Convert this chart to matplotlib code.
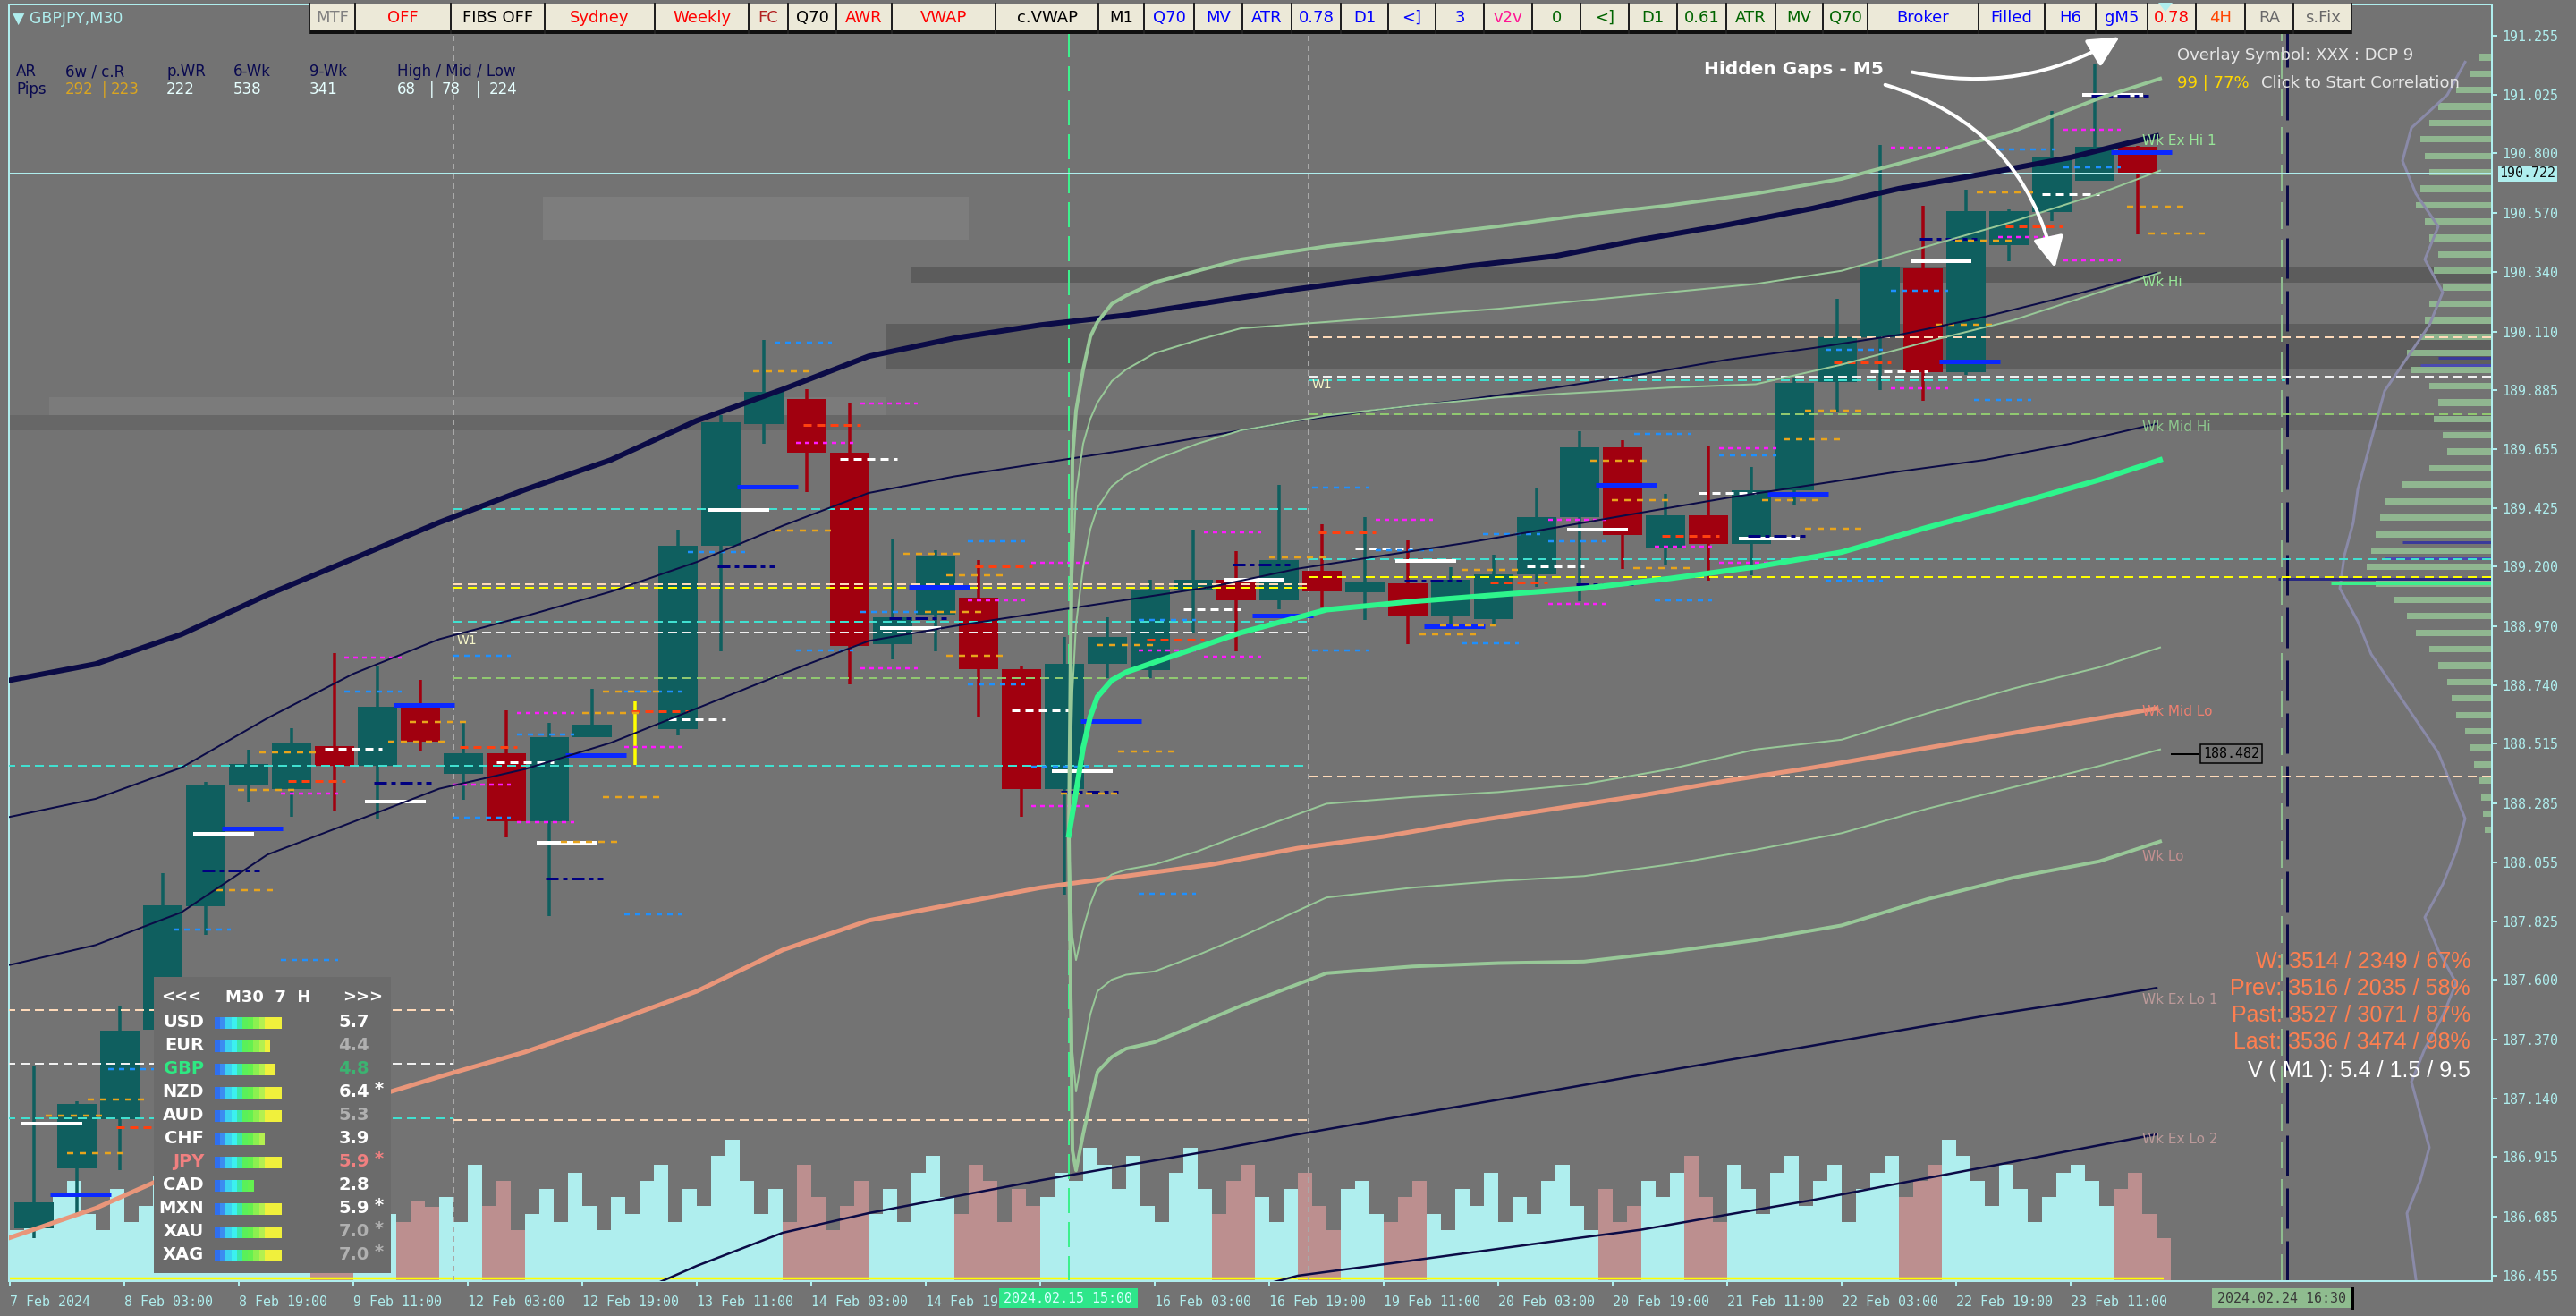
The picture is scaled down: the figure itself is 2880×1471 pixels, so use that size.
import numpy as np
import matplotlib
matplotlib.use('Agg')
import matplotlib.pyplot as plt
from matplotlib.patches import Rectangle, FancyArrowPatch, Polygon

plt.rcParams['lines.scale_dashes'] = False
plt.rcParams['font.family'] = ['DejaVu Sans']

W, H = 2880, 1471
PX = 0.72  # one pixel in points at 100 dpi

BG = '#737373'
CYAN = '#afeeee'
TEAL = '#0f5f5f'
RED = '#a1000f'
NAVY = '#0b0b46'
LGREEN = '#98c898'
SALMON = '#e9967a'
VWAPC = '#2ef58c'
VOL_UP = '#afeeee'
VOL_DN = '#bc8f8f'

# ---------------- data ----------------
# H6 candles GBPJPY, 7 Feb - 23 Feb 2024
c_open = [186.640, 186.871, 187.061, 187.407, 187.885, 188.353, 188.339, 188.505, 188.429, 188.665,
          188.398, 188.478, 188.214, 188.540, 188.560, 188.571, 189.281, 189.752, 189.849, 189.641,
          188.900, 189.014, 189.080, 188.803, 188.339, 188.824, 188.800, 189.111, 189.149, 189.070,
          189.184, 189.101, 189.136, 189.011, 188.997, 189.170, 189.392, 189.662, 189.274, 189.399,
          189.288, 189.496, 189.915, 190.088, 190.355, 189.953, 190.445, 190.573, 190.694, 190.826]
c_high = [187.265, 187.130, 187.501, 188.013, 188.367, 188.491, 188.574, 188.865, 188.817, 188.761,
          188.595, 188.644, 188.595, 188.727, 188.678, 189.343, 189.787, 190.078, 189.887, 189.835,
          189.309, 189.264, 189.226, 188.813, 188.928, 189.004, 189.149, 189.343, 189.260, 189.517,
          189.364, 189.392, 189.302, 189.198, 189.246, 189.503, 189.724, 189.690, 189.482, 189.669,
          189.586, 189.930, 190.237, 190.833, 190.597, 190.659, 190.583, 190.964, 191.144, 190.830]
c_low = [186.600, 186.687, 186.864, 187.380, 187.775, 188.291, 188.232, 188.252, 188.222, 188.485,
         188.297, 188.152, 187.847, 188.540, 188.432, 188.547, 188.872, 189.676, 189.489, 188.744,
         188.841, 188.872, 188.620, 188.232, 187.930, 188.768, 188.768, 188.945, 188.872, 189.035,
         189.042, 188.994, 188.900, 188.959, 188.980, 189.122, 189.066, 189.191, 189.205, 189.146,
         189.167, 189.437, 189.800, 189.884, 189.842, 189.942, 190.382, 190.538, 190.694, 190.486]
c_close = [186.740, 187.120, 187.404, 187.889, 188.353, 188.436, 188.519, 188.429, 188.658, 188.523,
           188.478, 188.214, 188.540, 188.588, 188.560, 189.281, 189.759, 189.877, 189.641, 188.893,
           189.004, 189.243, 188.803, 188.339, 188.824, 188.928, 189.108, 189.149, 189.070, 189.226,
           189.104, 189.142, 189.011, 189.149, 189.170, 189.392, 189.662, 189.323, 189.399, 189.288,
           189.496, 189.911, 190.088, 190.361, 189.953, 190.576, 190.576, 190.784, 190.826, 190.725]

# tick volume, 2-hour buckets
volume = [31, 41, 36, 51, 61, 41, 31, 56, 36, 46, 64,
          45, 38, 52, 40, 35, 48, 55, 42, 37, 50, 44, 58, 39, 47, 53, 41, 36, 49, 45,
          51, 36, 71, 46, 61, 31, 41, 56, 36, 66, 46, 31, 51, 41, 61, 71, 36, 56, 46,
          76, 86, 61, 41, 56, 36, 71, 51, 31, 46, 61, 41,
          56, 36, 66, 76, 51, 41, 71, 61, 36, 56, 46, 51, 66, 61, 81,
          71, 56, 76, 46, 36, 66, 81, 56, 41, 61, 71, 51, 36, 56, 66, 46, 31, 56, 61, 41,
          36, 51, 61, 41, 31, 56, 46, 66, 36, 51, 41, 61, 71, 46, 31, 56, 36, 46, 61, 51,
          66, 76, 51, 36, 71, 56, 41, 66, 76, 46, 61, 71, 36, 56, 66, 76, 51, 61, 71, 86,
          76, 61, 46, 71, 56, 36, 51, 66, 71, 61, 46, 56, 66, 41, 26]

# weekly moving bands, sampled every 12 hours
ma_thick = [188.760, 188.823, 188.938, 189.091, 189.231, 189.371, 189.498, 189.613, 189.765, 189.886,
            190.014, 190.084, 190.135, 190.173, 190.224, 190.275, 190.319, 190.364, 190.402, 190.466,
            190.523, 190.587, 190.663, 190.721, 190.784, 190.867]
wk_hi = [188.231, 188.301, 188.422, 188.613, 188.785, 188.919, 189.008, 189.103, 189.218, 189.358,
         189.485, 189.549, 189.600, 189.651, 189.708, 189.765, 189.810, 189.848, 189.893, 189.944,
         190.001, 190.046, 190.097, 190.167, 190.249, 190.338]
wk_mid_hi = [187.658, 187.735, 187.862, 188.085, 188.212, 188.340, 188.416, 188.518, 188.651, 188.785,
             188.912, 188.970, 189.021, 189.071, 189.122, 189.192, 189.243, 189.294, 189.351, 189.409,
             189.466, 189.517, 189.568, 189.613, 189.676, 189.753]
wk_mid_lo = [186.602, 186.716, 186.863, 187.002, 187.123, 187.225, 187.321, 187.435, 187.556, 187.716,
             187.830, 187.894, 187.957, 188.002, 188.047, 188.110, 188.155, 188.212, 188.263, 188.314,
             188.371, 188.422, 188.479, 188.537, 188.594, 188.651]
nan = np.nan
wk_ex_lo1 = [nan] * 7 + [186.347, 186.493, 186.621, 186.697, 186.761, 186.824, 186.882, 186.939, 187.002,
                         187.060, 187.117, 187.174, 187.232, 187.289, 187.346, 187.404, 187.461, 187.512,
                         187.569]
wk_ex_lo2 = [nan] * 14 + [186.366, 186.455, 186.499, 186.544, 186.589, 186.633, 186.691, 186.748, 186.812,
                          186.875, 186.939, 187.002]

# anchored VWAP (15 Feb 15:00) and its bands, bars after anchor
vwap_t = [0, 1, 2, 4, 6, 8, 12, 16, 24, 36, 48, 72, 96, 120, 144, 168, 192, 216, 240, 264, 288, 305]
vwap = [188.161, 188.244, 188.327, 188.499, 188.620, 188.696, 188.760, 188.791, 188.830, 188.887, 188.944,
        189.033, 189.065, 189.091, 189.116, 189.154, 189.199, 189.256, 189.352, 189.441, 189.536, 189.613]
band_up2 = [188.161, 189.613, 189.804, 189.963, 190.090, 190.147, 190.217, 190.249, 190.300, 190.345, 190.389,
            190.440, 190.478, 190.517, 190.561, 190.599, 190.644, 190.701, 190.790, 190.886, 191.013, 191.089]
band_up15 = [188.161, 189.167, 189.485, 189.676, 189.772, 189.835, 189.918, 189.963, 190.026, 190.077, 190.122,
             190.147, 190.173, 190.198, 190.230, 190.262, 190.294, 190.345, 190.440, 190.536, 190.644, 190.733]
band_up1 = [188.161, 188.721, 188.976, 189.199, 189.345, 189.428, 189.511, 189.555, 189.613, 189.676, 189.727,
            189.785, 189.823, 189.855, 189.874, 189.893, 189.906, 189.982, 190.071, 190.154, 190.262, 190.338]
band_dn1 = [188.161, 187.766, 187.677, 187.798, 187.894, 187.964, 188.008, 188.027, 188.047, 188.098, 188.161,
            188.282, 188.308, 188.327, 188.358, 188.416, 188.492, 188.530, 188.632, 188.728, 188.810, 188.887]
band_dn15 = [188.161, 187.321, 187.168, 187.321, 187.467, 187.556, 187.601, 187.620, 187.633, 187.696, 187.766,
             187.919, 187.957, 187.983, 188.002, 188.047, 188.104, 188.168, 188.263, 188.346, 188.428, 188.492]
band_dn2 = [188.161, 186.939, 186.863, 187.003, 187.130, 187.244, 187.302, 187.334, 187.359, 187.429, 187.499,
            187.626, 187.652, 187.665, 187.671, 187.709, 187.754, 187.811, 187.913, 187.996, 188.059, 188.136]

# key levels: price, from bar, to bar, colour
levels = [(190.088, 363, 694, '#ffdab9'), (189.935, 363, 694, '#f0f0f0'), (189.922, 363, 636, '#40e0d0'),
          (189.790, 363, 694, '#90c870'), (189.423, 124, 363, '#40e0d0'), (189.229, 363, 694, '#40e0d0'),
          (189.160, 363, 694, '#ffff00'), (189.132, 124, 363, '#ffdab9'), (189.118, 124, 363, '#ffff00'),
          (188.987, 124, 363, '#40e0d0'), (188.945, 124, 363, '#f0f0f0'), (188.768, 124, 363, '#90c870'),
          (188.430, -1, 363, '#40e0d0'), (188.387, 363, 694, '#ffdab9'), (187.484, -1, 124, '#ffdab9'),
          (187.276, -1, 124, '#f0f0f0'), (187.064, -1, 124, '#40e0d0'), (187.058, 124, 363, '#ffdab9')]

# daily pivot marks, one per 48 bars
white_solid = [187.044, 188.166, 188.290, 188.131, 189.420, 188.962, 188.408, 189.149, 189.222, 189.343,
               189.309, 190.382, 191.026]
blue_solid = [186.770, 188.187, 188.665, 188.471, 189.510, 189.122, 188.602, 189.011, 188.969, 189.516,
              189.482, 189.994, 190.805]
white_dash = [188.495, 188.443, 188.609, 189.617, 188.644, 189.035, 189.271, 189.202, 189.485, 189.957,
              190.642]
navy_dash = [188.024, 188.363, 187.993, 189.201, 189.001, 188.329, 189.208, 189.146, 189.132, 189.319,
             190.469, 191.023]
red_dash = [187.028, 188.370, 188.502, 188.640, 189.749, 189.201, 188.917, 189.333, 189.139, 189.319,
            189.991, 190.517]
# session marks: start bar, price
magenta_marks = [(93.5, 188.848), (75.8, 188.322), (45.8, 187.003), (124, 188.356), (141.8, 188.633),
                 (141.8, 188.211), (171.8, 188.502), (237.8, 189.832), (237.8, 188.807), (219.8, 189.679),
                 (267.8, 189.070), (285.5, 189.215), (285.5, 188.273), (315.5, 188.876), (333.8, 189.333),
                 (333.8, 188.852), (381.8, 189.381), (430, 189.381), (430, 189.056), (459.8, 189.277),
                 (477.8, 189.658), (477.8, 189.215), (525.8, 189.891), (525.8, 190.822), (555.8, 190.476),
                 (574, 190.891), (574, 190.386)]
blue_marks = [(93.5, 188.717), (124, 188.855), (124, 188.228), (141.8, 188.550), (171.8, 188.717),
              (171.8, 187.854), (45.8, 187.795), (75.8, 187.678), (27.5, 187.255), (213.8, 190.067),
              (189.5, 189.257), (219.8, 188.876), (237.8, 189.025), (267.8, 189.298), (267.8, 188.744),
              (285.5, 188.426), (315.5, 187.934), (315.5, 188.993), (364, 189.506), (364, 188.876),
              (381.8, 189.264), (411.8, 189.326), (405.8, 188.903), (430, 189.298), (454, 189.714),
              (459.8, 189.070), (477.8, 189.631), (507.5, 189.146), (507.5, 190.039), (549, 189.846),
              (525.8, 190.268), (555.8, 190.815), (574, 190.746)]
orange_marks = [(69.8, 188.481), (63.8, 188.336), (111.8, 188.599), (105.8, 188.523), (57.8, 187.948),
                (160, 188.633), (165.8, 188.717), (165.8, 188.308), (154, 188.135), (16, 186.929),
                (21.8, 187.137), (10, 187.075), (207.8, 189.956), (213.8, 189.340), (249.8, 189.250),
                (261.8, 189.167), (255.8, 189.025), (261.8, 188.855), (303.8, 188.897), (309.8, 188.485),
                (293.8, 188.322), (352, 189.236), (405.8, 189.188), (394, 188.938), (399.8, 188.973),
                (441.8, 189.610), (447.8, 189.458), (453.8, 189.195), (489.8, 189.458), (495.8, 189.693),
                (501.8, 189.804), (501.8, 189.347), (543.8, 190.462), (549.8, 190.649), (538.3, 190.136),
                (591.8, 190.594), (597.8, 190.490)]

# hidden gap zones (M5): from bar, to bar, low, high, shade
zones = [(252, 694, 190.300, 190.357, '#5c5c5c'), (245, 694, 189.963, 190.141, '#5e5e5e'),
         (-1, 694, 189.727, 189.785, '#676767'), (11, 245, 189.785, 189.855, '#7b7b7b'),
         (149, 268, 190.466, 190.631, '#7d7d7d')]

# market profile on the right (length in px) and overlay curve
prof_len = [15, 25, 40, 60, 70, 80, 75, 70, 80, 85, 75, 70, 60, 65, 55, 70, 75, 80, 95, 90, 70, 60, 65, 55,
            50, 70, 100, 120, 125, 130, 135, 140, 130, 110, 95, 85, 70, 60, 50, 45, 40, 30, 25, 20, 15, 12,
            10, 8]
prof_outline = [30, 50, 90, 100, 85, 60, 75, 55, 70, 95, 120, 130, 140, 150, 155, 165, 170, 150, 135, 110,
                85, 60, 45, 30, 40, 55, 75, 60, 40, 55, 75, 90, 80, 70, 80, 95, 90, 85]

price_ticks = [191.255, 191.025, 190.800, 190.570, 190.340, 190.110, 189.885, 189.655, 189.425, 189.200,
               188.970, 188.740, 188.515, 188.285, 188.055, 187.825, 187.600, 187.370, 187.140, 186.915,
               186.685, 186.455]
# the 15 Feb 11:00 label sits under the crosshair time box
time_labels = ['7 Feb 2024', '8 Feb 03:00', '8 Feb 19:00', '9 Feb 11:00', '12 Feb 03:00', '12 Feb 19:00',
               '13 Feb 11:00', '14 Feb 03:00', '14 Feb 19', '', '16 Feb 03:00',
               '16 Feb 19:00', '19 Feb 11:00', '20 Feb 03:00', '20 Feb 19:00', '21 Feb 11:00',
               '22 Feb 03:00', '22 Feb 19:00', '23 Feb 11:00']

currencies = ['USD', 'EUR', 'GBP', 'NZD', 'AUD', 'CHF', 'JPY', 'CAD', 'MXN', 'XAU', 'XAG']
strength = [5.7, 4.4, 4.8, 6.4, 5.3, 3.9, 5.9, 2.8, 5.9, 7.0, 7.0]
starred = [0, 0, 0, 1, 0, 0, 1, 0, 1, 1, 1]
meter_steps = [12, 10, 11, 12, 12, 9, 12, 7, 12, 12, 12]

buttons = [('MTF', '#808080', 346, 397), ('OFF', '#ff0000', 397, 504), ('FIBS OFF', '#000000', 504, 609),
           ('Sydney', '#ff0000', 609, 732), ('Weekly', '#ff0000', 732, 837), ('FC', '#b22222', 837, 881),
           ('Q70', '#000000', 881, 935), ('AWR', '#ff0000', 935, 997), ('VWAP', '#ff0000', 997, 1113),
           ('c.VWAP', '#000000', 1113, 1228), ('M1', '#000000', 1228, 1279), ('Q70', '#0000ff', 1279, 1335),
           ('MV', '#0000ff', 1335, 1389), ('ATR', '#0000ff', 1389, 1444), ('0.78', '#0000ff', 1444, 1499),
           ('D1', '#0000ff', 1499, 1552), ('<]', '#0000ff', 1552, 1605), ('3', '#0000ff', 1605, 1659),
           ('v2v', '#ff1493', 1659, 1713), ('0', '#006400', 1713, 1767), ('<]', '#006400', 1767, 1821),
           ('D1', '#006400', 1821, 1875), ('0.61', '#006400', 1875, 1930), ('ATR', '#006400', 1930, 1985),
           ('MV', '#006400', 1985, 2038), ('Q70', '#006400', 2038, 2088), ('Broker', '#0000ff', 2088, 2212),
           ('Filled', '#0000ff', 2212, 2286), ('H6', '#0000ff', 2286, 2343), ('gM5', '#0000ff', 2343, 2401),
           ('0.78', '#ff0000', 2401, 2455), ('4H', '#ff4500', 2455, 2510), ('RA', '#696969', 2510, 2564),
           ('s.Fix', '#696969', 2564, 2629)]

# ---------------- figure ----------------
fig = plt.figure(figsize=(W / 100, H / 100), dpi=100)
fig.patch.set_facecolor(BG)
rect = [10 / W, 39 / H, 2776 / W, 1427 / H]
XMIN, XMAX = -0.25, 693.75

vax = fig.add_axes(rect, zorder=0)
ax = fig.add_axes(rect, zorder=1)
ax.patch.set_visible(False)

# volume
vol_x = np.arange(len(volume)) * 4 + 2
cidx = np.clip(((vol_x - 0.75) // 12).astype(int), 0, len(c_open) - 1)
vcol = [VOL_UP if c_close[i] >= c_open[i] else VOL_DN for i in cidx]
vax.bar(vol_x, volume, width=4, color=vcol, linewidth=0)
vax.hlines(1.5, 0, 602, colors='#ffff00', lw=2.5 * PX)
vax.set_xlim(XMIN, XMAX)
vax.set_ylim(0, 777)
vax.axis('off')

# zones
for x0, x1, lo, hi, col in zones:
    ax.add_patch(Rectangle((x0, lo), x1 - x0, hi - lo, fc=col, ec='none', zorder=0.5))

# profile
prof_p = np.linspace(191.172, 188.180, len(prof_len))
plen = np.array(prof_len) / 4
ax.barh(prof_p, plen, left=XMAX - plen, height=0.025, color=LGREEN, alpha=0.8, linewidth=0, zorder=1)
out_p = np.linspace(191.153, 186.442, len(prof_outline))
ax.plot(XMAX - np.array(prof_outline) / 4, out_p, color='#8a8aa8', lw=3 * PX, zorder=1.2)
for p, ln, col in [(190.007, 60, '#3a3a9a'), (189.982, 80, '#4a4ab0'), (189.294, 100, '#3a3a9a'),
                   (189.231, 120, '#4a4ab0'), (189.154, 239, '#2a2a80'), (189.135, 180, '#3cf08c')]:
    ax.hlines(p, XMAX - ln / 4, XMAX, colors=col, lw=3 * PX, zorder=1.3)

# key levels
for p, x0, x1, col in levels:
    ax.hlines(p, x0, x1, colors=col, lw=2 * PX, linestyles=(0, (10 * PX, 6 * PX)), zorder=3.5)

# separators
for b in (124, 363):
    ax.axvline(b, color='#a9a9a9', lw=2 * PX, ls=(0, (6 * PX, 5 * PX)), zorder=2)
ax.axvline(296, color='#3cf08c', lw=2 * PX, ls=(0, (28 * PX, 10 * PX)), zorder=2)
ax.axvline(635, color='#8fbc8f', lw=2 * PX, ls=(0, (30 * PX, 12 * PX)), zorder=2)
ax.axvline(636.5, color=NAVY, lw=3 * PX, ls=(0, (45 * PX, 14 * PX)), zorder=2)
ax.axhline(190.722, color=CYAN, lw=2 * PX, zorder=4)

# candles
cx = 6.75 + 12 * np.arange(len(c_open))
o, hi_, lo_, c = map(np.array, (c_open, c_high, c_low, c_close))
ccol = np.where(c > o, TEAL, np.where(c < o, RED, '#ffff00'))
ax.vlines(cx, lo_, hi_, colors=ccol, lw=3.5 * PX, zorder=3)
ax.bar(cx, np.abs(c - o), bottom=np.minimum(o, c), width=11, color=ccol, linewidth=0, zorder=3)

# pivot marks
def daily(prices, first, length, col, lw, ls):
    xs = first + 48 * np.arange(len(prices))
    ax.hlines(prices, xs, xs + length, colors=col, lw=lw * PX, linestyles=ls, zorder=3.6)

daily(white_solid, 3.25, 17, '#ffffff', 4, 'solid')
daily(blue_solid, 11.25, 17, '#0a28ff', 5, 'solid')
daily(white_dash, 88, 16, '#ffffff', 3, (0, (9 * PX, 6 * PX)))
daily(navy_dash, 53.75, 16, '#000080', 3, (0, (14 * PX, 5 * PX, 5 * PX, 5 * PX)))
daily(red_dash, 29.75, 16, '#ff4010', 3, (0, (9 * PX, 6 * PX)))
for marks, col, ls in [(magenta_marks, '#ff1aff', (0, (5 * PX, 5 * PX))),
                       (blue_marks, '#1e90ff', (0, (6 * PX, 6 * PX))),
                       (orange_marks, '#e8a41c', (0, (7 * PX, 7 * PX)))]:
    xs = np.array([m[0] for m in marks])
    ax.hlines([m[1] for m in marks], xs, xs + 16, colors=col, lw=2.5 * PX, linestyles=ls, zorder=3.6)

# bands
ma_x = np.arange(len(ma_thick)) * 24
ax.plot(ma_x, ma_thick, color=NAVY, lw=6 * PX, zorder=4)
ax.plot(ma_x, wk_hi, color=NAVY, lw=2 * PX, zorder=4)
ax.plot(ma_x, wk_mid_hi, color=NAVY, lw=2 * PX, zorder=4)
ax.plot(ma_x, wk_ex_lo1, color=NAVY, lw=2.5 * PX, zorder=4)
ax.plot(ma_x, wk_ex_lo2, color=NAVY, lw=2.5 * PX, zorder=4)
ax.plot(ma_x, wk_mid_lo, color=SALMON, lw=5 * PX, zorder=4)

vx = 296 + np.array(vwap_t)
ax.plot(vx, band_up2, color=LGREEN, lw=4 * PX, zorder=4)
ax.plot(vx, band_dn2, color=LGREEN, lw=4 * PX, zorder=4)
for b in (band_up15, band_up1, band_dn1, band_dn15):
    ax.plot(vx, b, color=LGREEN, lw=2 * PX, zorder=4)
ax.plot(vx, vwap, color=VWAPC, lw=6 * PX, zorder=4.2)

# line labels
for txt, p, col in [('Wk Ex Hi 1', 190.848, '#98e698'), ('Wk Hi', 190.300, '#98e698'),
                    ('Wk Mid Hi', 189.740, '#8ec88e'), ('Wk Mid Lo', 188.639, '#f08070'),
                    ('Wk Lo', 188.078, '#c49090'), ('Wk Ex Lo 1', 187.524, '#bc9a9a'),
                    ('Wk Ex Lo 2', 186.984, '#bc9a9a')]:
    ax.text(596, p, txt, color=col, fontsize=11, va='center', ha='left', zorder=5)
ax.text(125, 188.914, 'W1', color='#f5f5c8', fontsize=10, va='center', zorder=5)
ax.text(364, 189.904, 'W1', color='#f5f5c8', fontsize=10, va='center', zorder=5)

ax.hlines(188.474, 604, 612, colors='black', lw=2 * PX, zorder=5)
ax.text(613, 188.474, '188.482', fontsize=10.8, family='DejaVu Sans Mono', color='black', va='center',
        bbox=dict(boxstyle='square,pad=0.2', fc=BG, ec='black', lw=1.5 * PX), zorder=5)

# axes
ax.set_xlim(XMIN, XMAX)
ax.set_ylim(186.434, 191.376)
for s in ax.spines.values():
    s.set_color(CYAN)
    s.set_linewidth(2 * PX)
ax.yaxis.tick_right()
ax.set_yticks(price_ticks)
ax.set_yticklabels([f'{v:.3f}' for v in price_ticks])
ax.set_xticks(np.arange(len(time_labels)) * 32)
ax.set_xticklabels(time_labels)
ax.tick_params(axis='y', colors=CYAN, length=6 * PX, width=2 * PX, pad=4, labelsize=10.8)
ax.tick_params(axis='x', colors=CYAN, length=6 * PX, width=2 * PX, pad=7, labelsize=10.8)
for t in ax.get_xticklabels():
    t.set_ha('left')
    t.set_fontfamily('DejaVu Sans Mono')
for t in ax.get_yticklabels():
    t.set_fontfamily('DejaVu Sans Mono')
ax.text(1.003, 190.722, '190.722', transform=ax.get_yaxis_transform(), ha='left', va='center',
        fontsize=10.8, family='DejaVu Sans Mono', color='#101010', clip_on=False,
        bbox=dict(boxstyle='square,pad=0.12', fc=CYAN, ec='none'))

# ---------------- overlay (pixel coordinates) ----------------
ov = fig.add_axes([0, 0, 1, 1], zorder=5)
ov.set_xlim(0, W)
ov.set_ylim(H, 0)
ov.axis('off')

# toolbar
for label, col, x0, x1 in buttons:
    ov.add_patch(Rectangle((x0, 4), x1 - x0, 31, fc='#ece9d8', ec='none'))
    ov.plot([x0, x0], [4, 37], color='#202020', lw=2 * PX)
    ov.text((x0 + x1) / 2, 20, label, color=col, fontsize=13, ha='center', va='center')
ov.plot([2629, 2629], [4, 37], color='#202020', lw=2 * PX)
ov.add_patch(Rectangle((346, 34), 2629 - 346, 3.5, fc='#101010', ec='none'))
ov.add_patch(Polygon([(2413, 3), (2429, 3), (2421, 13)], closed=True, fc=CYAN, ec='none'))

# top left info
ov.text(14, 21, '▼ GBPJPY,M30', color=CYAN, fontsize=12.5, va='center')
for txt, x in [('AR', 18), ('6w / c.R', 73), ('p.WR', 186), ('6-Wk', 261), ('9-Wk', 346),
               ('High / Mid / Low', 444)]:
    ov.text(x, 80, txt, color='#0a0a50', fontsize=12, va='center')
ov.text(18, 100, 'Pips', color='#0a0a50', fontsize=12, va='center')
for txt, x, col in [('292', 73, '#daa520'), ('|', 114, '#daa520'), ('223', 124, '#daa520'),
                    ('222', 186, '#e6ffff'), ('538', 261, '#e6ffff'), ('341', 346, '#e6ffff'),
                    ('68', 444, '#e6ffff'), ('|', 480, '#e6ffff'), ('78', 494, '#e6ffff'),
                    ('|', 532, '#e6ffff'), ('224', 547, '#e6ffff')]:
    ov.text(x, 100, txt, color=col, fontsize=12, va='center')

# top right overlay info
ov.text(2434, 62, 'Overlay Symbol: XXX : DCP 9', color='#e6e6e6', fontsize=13, va='center')
ov.text(2434, 93, '99 | 77%', color='#ffd700', fontsize=13, va='center')
ov.text(2528, 93, 'Click to Start Correlation', color='#e6e6e6', fontsize=13, va='center')
ov.text(1905, 77, 'Hidden Gaps - M5', color='white', fontsize=14.5, fontweight='bold', va='center')
ov.add_patch(FancyArrowPatch((2135, 80), (2372, 40), connectionstyle='arc3,rad=0.2',
                             arrowstyle='-|>,head_length=0.6,head_width=0.3', mutation_scale=35,
                             color='white', lw=4 * PX))
ov.add_patch(FancyArrowPatch((2105, 94), (2298, 302), connectionstyle='arc3,rad=-0.3',
                             arrowstyle='-|>,head_length=0.6,head_width=0.3', mutation_scale=35,
                             color='white', lw=4 * PX))

# stats block
for i, txt in enumerate(['W: 3514 / 2349 / 67%', 'Prev: 3516 / 2035 / 58%', 'Past: 3527 / 3071 / 87%',
                         'Last: 3536 / 3474 / 98%']):
    ov.text(2762, 1075 + 30 * i, txt, color='#ff7f50', fontsize=18, family='Liberation Sans',
            ha='right', va='center')
ov.text(2762, 1197, 'V ( M1 ): 5.4 / 1.5 / 9.5', color='white', fontsize=18, family='Liberation Sans',
        ha='right', va='center')

# currency strength meter
meter_cols = ['#2f6fef', '#3c8cf0', '#3cd2f0', '#3cf0f0', '#3ce6aa', '#5af05a', '#64f050', '#8cf050',
              '#b4f050', '#f0f03c', '#f0f03c', '#f0f03c']
ov.add_patch(Rectangle((172, 1092), 265, 331, fc='#6b6b6b', ec='none'))
ov.text(203, 1115, '<<<', color='white', fontsize=13, fontweight='bold', ha='center', va='center')
ov.text(300, 1115, 'M30  7  H', color='white', fontsize=13, fontweight='bold', ha='center', va='center')
ov.text(406, 1115, '>>>', color='white', fontsize=13, fontweight='bold', ha='center', va='center')
name_col = {'GBP': '#2ee882', 'JPY': '#f08080'}
val_col = {'EUR': '#b0b0b0', 'GBP': '#3cb371', 'AUD': '#b0b0b0', 'JPY': '#f08080', 'XAU': '#b0b0b0',
           'XAG': '#b0b0b0'}
for i, cur in enumerate(currencies):
    y = 1143 + 26 * i
    ov.text(228, y, cur, color=name_col.get(cur, 'white'), fontsize=14, fontweight='bold',
            ha='right', va='center')
    for k in range(meter_steps[i]):
        ov.add_patch(Rectangle((240 + 6.2 * k, y - 6.5), 6.3, 13, fc=meter_cols[k], ec='none'))
    vc = val_col.get(cur, 'white')
    ov.text(413, y, f'{strength[i]:.1f}', color=vc, fontsize=14, fontweight='bold', ha='right', va='center')
    if starred[i]:
        ov.text(419, y - 4, '*', color=vc, fontsize=14, fontweight='bold', ha='left', va='center')

# time boxes
ov.add_patch(Rectangle((1117, 1440), 155, 22, fc='#2ee68a', ec='none'))
ov.text(1194.5, 1451, '2024.02.15 15:00', color='#d8ffff', fontsize=10.8, family='DejaVu Sans Mono',
        ha='center', va='center')
ov.add_patch(Rectangle((2473, 1440), 157, 22, fc='#8fbc8f', ec='none'))
ov.text(2551, 1451, '2024.02.24 16:30', color='#3a3a3a', fontsize=10.8, family='DejaVu Sans Mono',
        ha='center', va='center')
ov.plot([2630, 2630], [1440, 1462], color='black', lw=3 * PX)

fig.savefig('out.png', dpi=100, facecolor=fig.get_facecolor())
